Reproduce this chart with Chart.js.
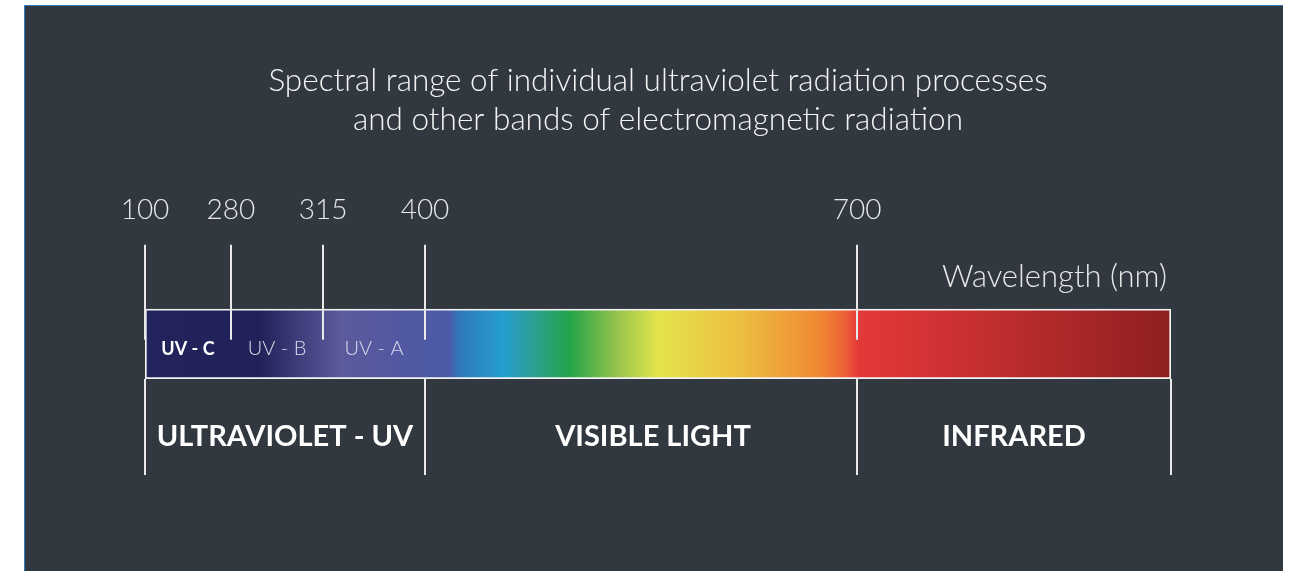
<!DOCTYPE html>
<html>
<head>
<meta charset="utf-8">
<script src="https://cdn.jsdelivr.net/npm/chart.js@4.4.0/dist/chart.umd.min.js"></script>
<style>
  html, body { margin: 0; padding: 0; background: #ffffff; }
  #panel {
    position: absolute; left: 24px; top: 5px; width: 1258px; height: 566px;
    background: #323840; border-top: 1px solid #2c7bc0; border-left: 1px solid #2c7bc0;
  }
  #chart { display: block; }
</style>
</head>
<body>
<div id="panel"><canvas id="chart" width="1258" height="565"></canvas></div>
<script>
'use strict';

// wavelengths in nm
const categories = ['Spectrum'];
const rangeStart = [100];
const rangeEnd = [1000];
const tickValues = [100, 280, 315, 400, 700];

const uvNames = ['UV - C', 'UV - B', 'UV - A'];
const uvFrom = [100, 280, 315];
const uvTo = [280, 315, 400];

const regionNames = ['ULTRAVIOLET - UV', 'VISIBLE LIGHT', 'INFRARED'];
const regionFrom = [100, 400, 700];
const regionTo = [400, 700, 1000];

// colour of the spectrum at these wavelengths
const stopNm = [100, 291, 329, 379, 417, 424, 454, 472, 500, 531, 562, 621, 674, 691, 702, 817, 1000];
const stopColor = ['#23235d', '#22225a', '#5b5a9c', '#5158a2', '#4b5ba8', '#2f78b8', '#259dcf', '#2c9f9c',
  '#21a349', '#8fc14c', '#e3e44b', '#ecbd3f', '#f08833', '#ed6235', '#e4383a', '#c52f2f', '#8e1f20'];

// the drawing is schematic, so the axis is stretched piece by piece
class PiecewiseScale extends Chart.LinearScale {
  _frac(value) {
    const v = this.options.breakValues, f = this.options.breakFracs;
    for (let i = 0; i < v.length - 1; i++) {
      if (value <= v[i + 1] || i === v.length - 2) {
        return f[i] + (value - v[i]) / (v[i + 1] - v[i]) * (f[i + 1] - f[i]);
      }
    }
    return 0;
  }
  getPixelForValue(value) {
    return this.getPixelForDecimal(this._frac(value));
  }
  getValueForPixel(pixel) {
    const d = this.getDecimalForPixel(pixel);
    const v = this.options.breakValues, f = this.options.breakFracs;
    for (let i = 0; i < f.length - 1; i++) {
      if (d <= f[i + 1]) return v[i] + (d - f[i]) / (f[i + 1] - f[i]) * (v[i + 1] - v[i]);
    }
    return v[v.length - 1];
  }
}
PiecewiseScale.id = 'piecewise';
PiecewiseScale.defaults = Chart.LinearScale.defaults;
Chart.register(PiecewiseScale);

function spectrumFill(context) {
  const chart = context.chart;
  if (!chart.chartArea) return '#444';
  const x = chart.scales.x;
  const p0 = x.getPixelForValue(rangeStart[0]);
  const p1 = x.getPixelForValue(rangeEnd[0]);
  const g = chart.ctx.createLinearGradient(p0, 0, p1, 0);
  for (let i = 0; i < stopNm.length; i++) {
    g.addColorStop((x.getPixelForValue(stopNm[i]) - p0) / (p1 - p0), stopColor[i]);
  }
  return g;
}

const markings = {
  id: 'markings',
  afterDatasetsDraw(chart) {
    const ctx = chart.ctx;
    const x = chart.scales.x;
    const bar = chart.getDatasetMeta(0).data[0];
    const top = bar.y - bar.height / 2;
    const bottom = bar.y + bar.height / 2;
    ctx.save();
    ctx.strokeStyle = '#e9e9e9';
    ctx.lineWidth = 2;
    tickValues.forEach(v => {
      const px = Math.round(x.getPixelForValue(v));
      ctx.beginPath();
      ctx.moveTo(px, top - 64);
      ctx.lineTo(px, top + 31);
      ctx.stroke();
    });
    regionFrom.concat([regionTo[regionTo.length - 1]]).forEach(v => {
      const px = Math.round(x.getPixelForValue(v));
      ctx.beginPath();
      ctx.moveTo(px, bottom);
      ctx.lineTo(px, bottom + 96);
      ctx.stroke();
    });

    ctx.textAlign = 'center';
    ctx.textBaseline = 'middle';
    uvNames.forEach((name, i) => {
      const cx = (x.getPixelForValue(uvFrom[i]) + x.getPixelForValue(uvTo[i])) / 2;
      ctx.font = (i === 0 ? 'bold 18px' : '300 20px') + ' Lato';
      ctx.fillStyle = i === 0 ? '#ffffff' : '#dcdcea';
      ctx.fillText(name, cx, bar.y + 5);
    });

    ctx.font = 'bold 29px Lato';
    ctx.fillStyle = '#ffffff';
    regionNames.forEach((name, i) => {
      let cx = (x.getPixelForValue(regionFrom[i]) + x.getPixelForValue(regionTo[i])) / 2;
      if (i === 1) cx += 12;
      ctx.fillText(name, cx, bottom + 58);
    });

    ctx.font = '300 31px Lato';
    ctx.fillStyle = '#e8e8e8';
    ctx.textAlign = 'right';
    ctx.fillText('Wavelength (nm)', chart.chartArea.right - 4, top - 32);
    ctx.restore();
  }
};

const data = {
  labels: categories,
  datasets: [{
    label: 'Spectrum',
    data: [[rangeStart[0], rangeEnd[0]]],
    backgroundColor: spectrumFill,
    borderColor: '#f2f2f2',
    borderWidth: 2,
    borderSkipped: false,
    barPercentage: 1,
    categoryPercentage: 1
  }]
};

const config = {
  type: 'bar',
  data: data,
  options: {
    indexAxis: 'y',
    responsive: false,
    animation: false,
    layout: { padding: { left: 120, right: 112, top: 55, bottom: 192 } },
    plugins: {
      legend: { display: false },
      tooltip: { enabled: false },
      title: {
        display: true,
        text: ['Spectral range of individual ultraviolet radiation processes',
               'and other bands of electromagnetic radiation'],
        color: '#f4f4f4',
        font: { family: 'Lato', size: 31.5, weight: '300', lineHeight: 1.24 },
        padding: { top: 0, bottom: 50 }
      }
    },
    scales: {
      x: {
        type: 'piecewise',
        position: 'top',
        min: 100,
        max: 1000,
        breakValues: [100, 280, 315, 400, 700, 1000],
        breakFracs: [0, 0.0838, 0.1735, 0.2729, 0.6940, 1],
        afterBuildTicks: axis => { axis.ticks = tickValues.map(v => ({ value: v })); },
        border: { display: false },
        grid: { display: false, drawTicks: true, tickLength: 78 },
        ticks: {
          color: '#e8e8e8',
          padding: 4,
          maxRotation: 0,
          autoSkip: false,
          font: { family: 'Lato', size: 28, weight: '300' }
        }
      },
      y: { display: false }
    }
  },
  plugins: [markings]
};

const myChart = new Chart(document.getElementById('chart'), config);
</script>
</body>
</html>
